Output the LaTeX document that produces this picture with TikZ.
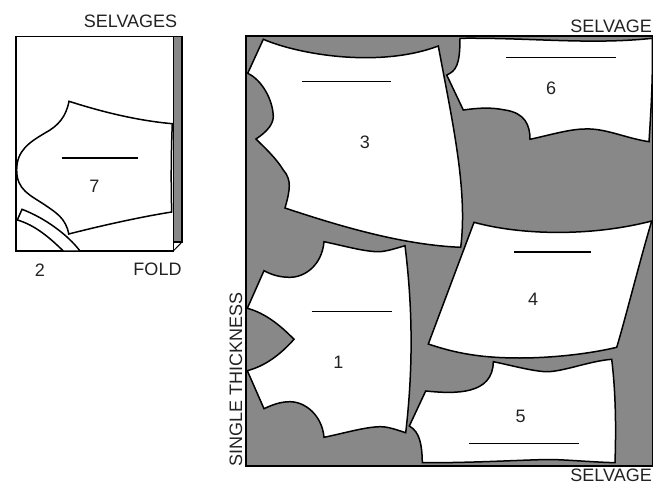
\documentclass[tikz,border=0pt]{standalone}
\usepackage{fontspec}
\setmainfont{Liberation Sans}
\definecolor{layoutgray}{HTML}{888888}
\definecolor{labelink}{HTML}{222222}
\tikzset{
	piece/.style={draw=black, fill=white, line width=1.5pt, line join=miter},
	grainline/.style={draw=black, line width=1.5pt},
	layoutlabel/.style={inner sep=0pt, text=labelink, font=\fontsize{18}{20}\selectfont},
}

\begin{document}
\begin{tikzpicture}[x=1pt, y=-1pt]
	\useasboundingbox (0,0) rectangle (653,484);
	% folded fabric on the left
	\draw[line width=1.4pt, fill=white] (16,36.3) rectangle (173.3,251);
	\draw[line width=1.4pt, fill=layoutgray] (173.3,36.3) -- (182,36.3) -- (182,242) -- (173.3,242) -- cycle;
	\draw[line width=1pt] (173.3,251) -- (182,242);
	\draw[piece] (69,101.3) .. controls (90,108) and (130,120) .. (172.3,123.7)
		.. controls (171,155) and (171,185) .. (171.7,212)
		.. controls (140,217) and (100,226) .. (68.7,234)
		.. controls (66,218) and (55,212) .. (45,205)
		.. controls (30,195) and (16.7,190) .. (16.7,170)
		.. controls (16.7,150) and (30,142) .. (45,133)
		.. controls (58,126) and (66,117) .. (69,101.3) -- cycle;
	\draw[piece] (22,209.3) .. controls (45,218) and (68,235) .. (80,251) -- (63.3,251)
		.. controls (50,238) and (35,225) .. (17.3,220) -- cycle;
	\draw[grainline] (61.7,158) -- (138.3,158);
	% single thickness on the right
	\draw[line width=1.4pt, fill=layoutgray] (246,36) rectangle (652.3,466);
	% piece 3
	\draw[piece] (263.3,39.3) .. controls (300,55) and (380,68) .. (438.3,46)
		.. controls (452,120) and (468,190) .. (460.7,247.3)
		.. controls (405,245) and (345,228) .. (285,208)
		.. controls (290,190) and (292,180) .. (283.3,170)
		.. controls (276,158) and (265,148) .. (256,139)
		.. controls (268,131) and (273,124) .. (273.3,116.7)
		.. controls (273,100) and (262,80) .. (247.7,73.3) -- cycle;
	\draw[grainline] (302,81.7) -- (390.7,81.7);
	% piece 6
	\draw[piece] (460,38.3) .. controls (530,37.5) and (590,45) .. (652.3,38.3)
		.. controls (653,80) and (651,110) .. (649,141.7)
		.. controls (625,138) and (605,128) .. (585,129)
		.. controls (570,129) and (550,135) .. (530,139.3)
		.. controls (530,125) and (525,113) .. (505,110)
		.. controls (490,107) and (478,108) .. (463.3,110)
		-- (446.7,75)
		.. controls (456,71) and (460,65) .. (460,38.3) -- cycle;
	\draw[grainline] (506,57.7) -- (616,57.7);
	% piece 1
	\draw[piece] (324,241.7) .. controls (345,246) and (365,252) .. (380,251.7)
		.. controls (388,251) and (397,248) .. (405,245.7)
		.. controls (413,310) and (413,370) .. (405.7,432.7)
		.. controls (397,430) and (388,426.5) .. (380,426.7)
		.. controls (365,427) and (345,433) .. (324,437.3)
		.. controls (322,415) and (305,401.7) .. (290,401.7)
		.. controls (280,401.7) and (272,405) .. (264,408.7)
		-- (247.3,370.7)
		.. controls (265,366) and (280,355) .. (294,339.3)
		.. controls (280,325) and (265,313) .. (247.3,308.3)
		-- (264,270.7)
		.. controls (272,275) and (280,277.3) .. (290,277.3)
		.. controls (305,277.3) and (322,265) .. (324,241.7) -- cycle;
	\draw[grainline] (311.7,311.3) -- (391.7,311.3);
	% piece 4
	\draw[piece] (474,222.3) .. controls (520,235) and (590,237) .. (651.7,221)
		.. controls (640,260) and (625,320) .. (616.7,347.3)
		.. controls (580,356) and (540,358) .. (520,358)
		.. controls (480,358) and (455,353) .. (428.3,344) -- cycle;
	\draw[grainline] (514,252) -- (591,252);
	% piece 5
	\draw[piece] (493.3,361.7) .. controls (510,365) and (535,372) .. (548.3,371.7)
		.. controls (565,371) and (590,361) .. (611.7,359.3)
		.. controls (616,395) and (616,430) .. (615,462.7)
		.. controls (590,462) and (565,459.5) .. (548,459.5)
		.. controls (520,460) and (470,463) .. (422.3,462.7)
		.. controls (422,445) and (420,432) .. (409.3,426)
		-- (425.7,391)
		.. controls (455,394) and (493,395) .. (493.3,361.7) -- cycle;
	\draw[grainline] (469.3,443.3) -- (579,443.3);
	% labels
	\foreach \name/\x/\y/\lab in {seven/94.5/186/7, two/40/270/2, three/365/142/3, six/551/88.5/6, one/338.5/362/1, four/533/299/4, five/520.5/416/5, fold/157.5/269/FOLD, selvages/130.5/21/SELVAGES} {
		\node[layoutlabel] (\name) at (\x,\y) {\lab};
	}
	\node[layoutlabel, anchor=east] (selvagetop) at (652,26) {SELVAGE};
	\node[layoutlabel, anchor=east] (selvagebottom) at (652,475) {SELVAGE};
	\node[layoutlabel, rotate=90] (thickness) at (236,379) {SINGLE THICKNESS};
\end{tikzpicture}
\end{document}
